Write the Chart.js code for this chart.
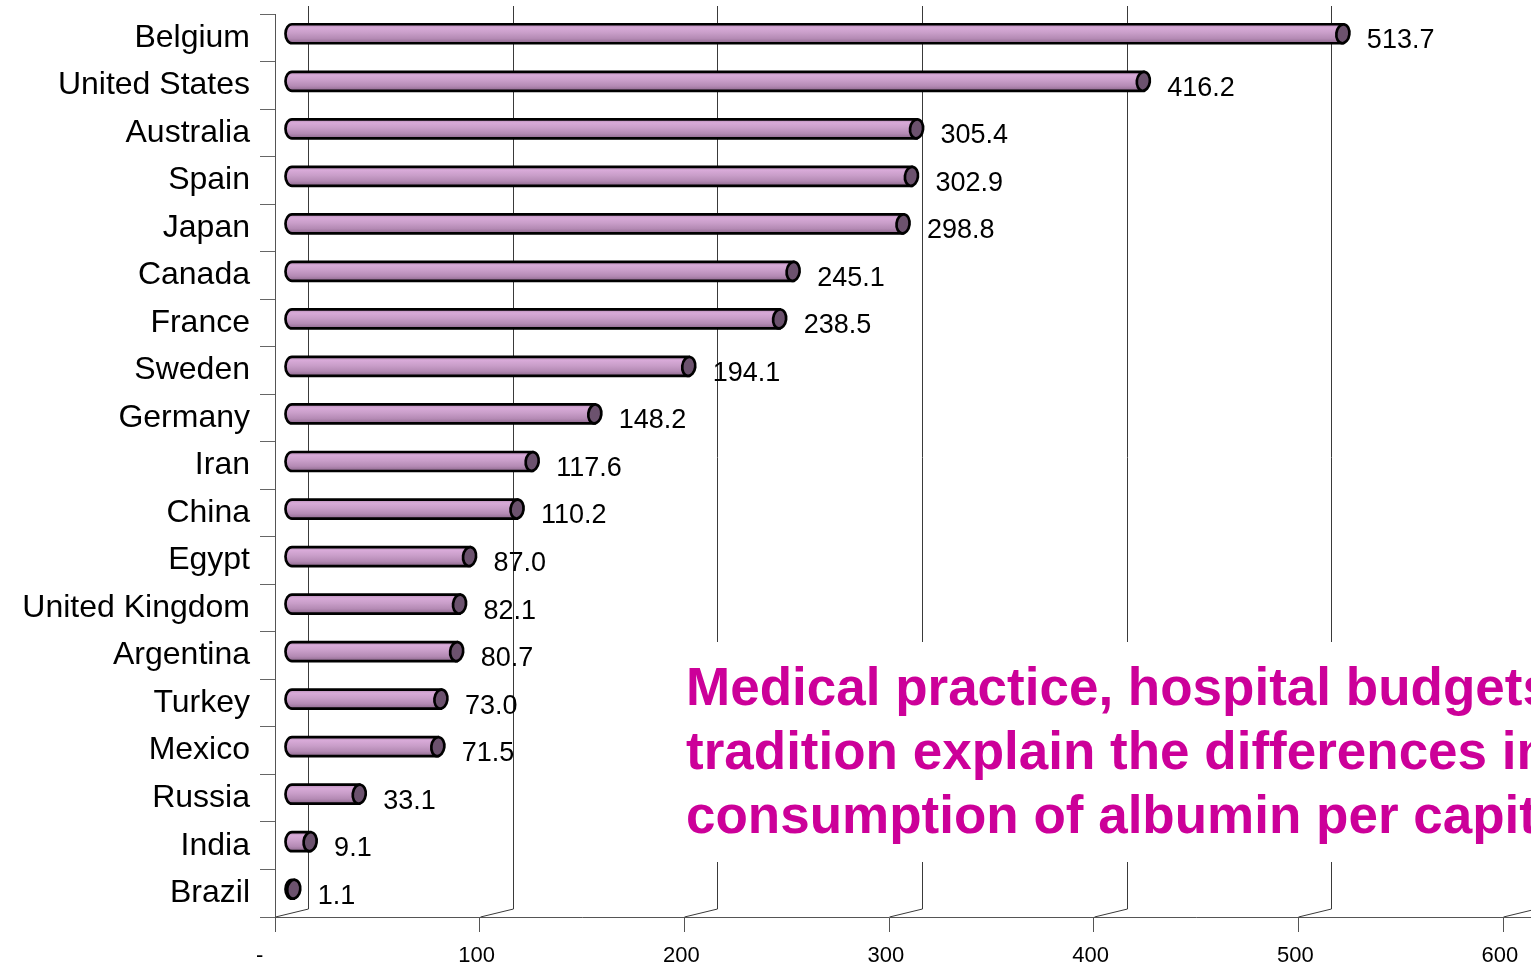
<!DOCTYPE html>
<html>
<head>
<meta charset="utf-8">
<script src="https://cdn.jsdelivr.net/npm/chart.js@4/dist/chart.umd.min.js"></script>
<style>
  html, body { margin: 0; padding: 0; background: #fff; }
  #wrap { position: relative; width: 1531px; height: 967px; overflow: hidden; }
  #note {
    position: absolute; left: 678px; top: 642px; width: 853px; height: 220px;
    background: #fff; overflow: hidden; white-space: nowrap; box-sizing: border-box;
    padding: 13px 0 0 8px;
    font: bold 53px "Liberation Sans", Arial, sans-serif; line-height: 64px; color: #cc0099;
  }
</style>
</head>
<body>
<div id="wrap">
  <canvas id="chart" width="1531" height="967"></canvas>
  <div id="note"></div>
</div>
<script>
var categories = ['Belgium', 'United States', 'Australia', 'Spain', 'Japan', 'Canada', 'France',
    'Sweden', 'Germany', 'Iran', 'China', 'Egypt', 'United Kingdom', 'Argentina', 'Turkey',
    'Mexico', 'Russia', 'India', 'Brazil'];
var albuminValues = [513.7, 416.2, 305.4, 302.9, 298.8, 245.1, 238.5, 194.1, 148.2, 117.6,
    110.2, 87.0, 82.1, 80.7, 73.0, 71.5, 33.1, 9.1, 1.1];
var xTickValues = [0, 100, 200, 300, 400, 500, 600];
var xTickLabels = ['-', '100', '200', '300', '400', '500', '600'];
var noteLines = ['Medical practice, hospital budgets and', 'tradition explain the differences in',
    'consumption of albumin per capita'];

var FONT = '"Liberation Sans", Arial, sans-serif';
var DEPTH_X = 33, DEPTH_Y = 8;   // back wall offset (3D look)

document.getElementById('note').innerHTML = noteLines.join('<br>');

// back wall gridlines with the slanted floor segment
var wallPlugin = {
    id: 'wall',
    beforeDatasetsDraw: function (chart) {
        var ctx = chart.ctx, area = chart.chartArea, xs = chart.scales.x;
        ctx.save();
        ctx.strokeStyle = '#3a3a3a';
        ctx.lineWidth = 1;
        xTickValues.forEach(function (v) {
            var px = Math.round(xs.getPixelForValue(v)) + 0.5;
            ctx.beginPath();
            ctx.moveTo(px + DEPTH_X, area.top - DEPTH_Y);
            ctx.lineTo(px + DEPTH_X, area.bottom - DEPTH_Y);
            ctx.lineTo(px, area.bottom);
            ctx.stroke();
        });
        // floor edge continues past the last tick
        ctx.strokeStyle = '#555';
        ctx.beginPath();
        ctx.moveTo(area.right, Math.round(area.bottom) + 0.5);
        ctx.lineTo(chart.width, Math.round(area.bottom) + 0.5);
        ctx.stroke();
        ctx.restore();
    }
};

// cylinders + value labels
var cylinderPlugin = {
    id: 'cylinders',
    afterDatasetsDraw: function (chart) {
        var ctx = chart.ctx;
        var meta = chart.getDatasetMeta(0);
        var dx = DEPTH_X / 2, dy = DEPTH_Y / 2;
        ctx.save();
        meta.data.forEach(function (bar, i) {
            var x0 = bar.base + dx, x1 = bar.x + dx;
            var cy = bar.y - dy;
            var ry = bar.height / 2, rx = 6.5;

            var grad = ctx.createLinearGradient(0, cy - ry, 0, cy + ry);
            grad.addColorStop(0, '#b58ab5');
            grad.addColorStop(0.18, '#d8aad8');
            grad.addColorStop(0.45, '#c99ec9');
            grad.addColorStop(0.75, '#b48ab4');
            grad.addColorStop(1, '#8c688c');

            ctx.beginPath();
            ctx.moveTo(x1, cy - ry);
            ctx.lineTo(x0, cy - ry);
            ctx.ellipse(x0, cy, rx, ry, 0, -Math.PI / 2, Math.PI / 2, true);
            ctx.lineTo(x1, cy + ry);
            ctx.closePath();
            ctx.fillStyle = grad;
            ctx.fill();
            ctx.lineWidth = 2.7;
            ctx.strokeStyle = '#000';
            ctx.stroke();

            ctx.beginPath();
            ctx.ellipse(x1, cy, rx, ry, 0.12, 0, Math.PI * 2);
            ctx.fillStyle = '#6c526e';
            ctx.fill();
            ctx.stroke();

            ctx.fillStyle = '#000';
            ctx.font = '27px ' + FONT;
            ctx.textAlign = 'left';
            ctx.textBaseline = 'middle';
            ctx.fillText(albuminValues[i].toFixed(1), x1 + 24, bar.y + 3);
        });
        ctx.restore();
    }
};

new Chart(document.getElementById('chart'), {
    type: 'bar',
    data: {
        labels: categories,
        datasets: [{
            data: albuminValues,
            backgroundColor: 'rgba(0,0,0,0)',
            borderWidth: 0,
            barThickness: 19
        }]
    },
    options: {
        indexAxis: 'y',
        responsive: false,
        animation: false,
        devicePixelRatio: 1,
        layout: { padding: { top: 14, right: 28, bottom: 0, left: 0 } },
        plugins: {
            legend: { display: false },
            tooltip: { enabled: false }
        },
        scales: {
            y: {
                afterFit: function (scale) {
                    scale.width = 275;
                    scale.paddingTop = 0;
                    scale.paddingBottom = 0;
                },
                grid: { drawOnChartArea: false, tickLength: 15, color: '#666' },
                border: { display: true, color: '#555' },
                ticks: { color: '#000', padding: 10, font: { family: FONT, size: 32 } }
            },
            x: {
                min: 0,
                max: 600,
                afterFit: function (scale) {
                    scale.height = 50;
                    scale.paddingLeft = 0;
                    scale.paddingRight = 0;
                },
                afterBuildTicks: function (scale) {
                    scale.ticks = xTickValues.map(function (v) { return { value: v }; });
                },
                grid: { drawOnChartArea: false, tickLength: 15, color: '#555' },
                border: { display: true, color: '#555' },
                ticks: {
                    color: '#000',
                    padding: 11,
                    maxRotation: 0,
                    font: { family: FONT, size: 22 },
                    callback: function (value, index) {
                        var t = xTickLabels[index];
                        return t === '-' ? '-     ' : t + ' ';
                    }
                }
            }
        }
    },
    plugins: [wallPlugin, cylinderPlugin]
});
</script>
</body>
</html>
